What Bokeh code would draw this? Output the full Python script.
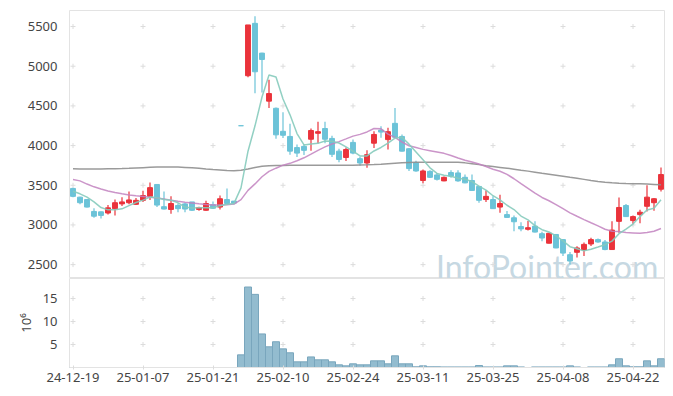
from bokeh.plotting import figure
from bokeh.layouts import column
from bokeh.models import ColumnDataSource, Range1d, FixedTicker
from bokeh.core.properties import value
from bokeh.embed import file_html
from bokeh.resources import INLINE

# ---------------- data ----------------
dates = [
    "24-12-19", "24-12-20", "24-12-23", "24-12-24", "24-12-26", "24-12-27", "24-12-30",
    "25-01-02", "25-01-03", "25-01-06", "25-01-07", "25-01-08", "25-01-09", "25-01-10",
    "25-01-13", "25-01-14", "25-01-15", "25-01-16", "25-01-17", "25-01-20", "25-01-21",
    "25-01-22", "25-01-23", "25-01-24", "25-01-31",
    "25-02-03", "25-02-04", "25-02-05", "25-02-06", "25-02-07", "25-02-10", "25-02-11",
    "25-02-12", "25-02-13", "25-02-14", "25-02-17", "25-02-18", "25-02-19", "25-02-20",
    "25-02-21", "25-02-24", "25-02-25", "25-02-26", "25-02-27", "25-02-28",
    "25-03-04", "25-03-05", "25-03-06", "25-03-07", "25-03-10", "25-03-11", "25-03-12",
    "25-03-13", "25-03-14", "25-03-17", "25-03-18", "25-03-19", "25-03-20", "25-03-21",
    "25-03-24", "25-03-25", "25-03-26", "25-03-27", "25-03-28", "25-03-31",
    "25-04-01", "25-04-02", "25-04-03", "25-04-04", "25-04-07", "25-04-08", "25-04-09",
    "25-04-10", "25-04-11", "25-04-14", "25-04-15", "25-04-16", "25-04-17", "25-04-18",
    "25-04-21", "25-04-22", "25-04-23", "25-04-24", "25-04-25", "25-04-28",
]

opens = [3460, 3350, 3320, 3170, 3165, 3150, 3205, 3265, 3280, 3260,
         3310, 3360, 3510, 3230, 3195, 3245, 3265, 3290, 3195, 3185,
         3255, 3225, 3320, 3300, 4250, 4880, 5540, 5165, 4560, 4470,
         4180, 4115, 3975, 3990, 4080, 4155, 4215, 4090, 3930, 3850,
         4040, 3835, 3780, 4030, 4195, 4075, 4280, 4115, 3960, 3785,
         3560, 3675, 3630, 3555, 3660, 3655, 3600, 3560, 3485, 3320,
         3320, 3225, 3130, 3090, 2980, 2945, 2985, 2890, 2770, 2880,
         2815, 2625, 2655, 2685, 2760, 2815, 2785, 2690, 3045, 3245,
         3055, 3130, 3235, 3280, 3450]
highs = [3470, 3355, 3325, 3210, 3170, 3250, 3320, 3350, 3420, 3340,
         3430, 3535, 3510, 3420, 3360, 3270, 3280, 3290, 3230, 3305,
         3295, 3370, 3460, 3300, 4250, 5520, 5630, 5170, 4830, 4480,
         4420, 4275, 4015, 4020, 4215, 4300, 4300, 4125, 3960, 3975,
         4075, 3860, 3940, 4180, 4245, 4225, 4475, 4140, 3970, 3810,
         3700, 3690, 3655, 3610, 3690, 3690, 3635, 3635, 3490, 3435,
         3360, 3380, 3175, 3120, 3035, 3050, 3045, 2915, 2900, 2885,
         2820, 2660, 2730, 2780, 2840, 2830, 2810, 3045, 3345, 3265,
         3120, 3190, 3500, 3340, 3725]
lows = [3350, 3260, 3220, 3090, 3080, 3130, 3120, 3240, 3260, 3250,
        3290, 3315, 3225, 3195, 3140, 3160, 3160, 3175, 3180, 3180,
        3200, 3195, 3265, 3260, 4250, 4860, 4660, 4670, 4475, 4085,
        4095, 3885, 3855, 3880, 3935, 4030, 4030, 3855, 3790, 3805,
        3890, 3745, 3720, 3970, 4100, 3950, 4100, 3925, 3680, 3670,
        3525, 3590, 3560, 3550, 3595, 3545, 3525, 3430, 3280, 3290,
        3200, 3155, 3090, 2920, 2920, 2930, 2905, 2795, 2765, 2705,
        2610, 2500, 2590, 2610, 2735, 2775, 2680, 2685, 2900, 3100,
        3015, 3020, 3170, 3180, 3420]
closes = [3360, 3280, 3225, 3110, 3120, 3215, 3280, 3290, 3315, 3310,
          3370, 3470, 3250, 3200, 3270, 3205, 3200, 3185, 3220, 3270,
          3210, 3330, 3270, 3275, 4250, 5520, 4930, 5085, 4655, 4135,
          4130, 3930, 3905, 3940, 4190, 4175, 4080, 3890, 3825, 3950,
          3905, 3780, 3885, 4140, 4170, 4175, 4105, 3930, 3710, 3680,
          3680, 3600, 3575, 3600, 3615, 3555, 3530, 3435, 3310, 3360,
          3205, 3270, 3095, 3040, 2950, 2965, 2910, 2835, 2895, 2710,
          2645, 2545, 2710, 2755, 2815, 2785, 2690, 2935, 3220, 3105,
          3105, 3160, 3350, 3330, 3635]

# volume, millions of shares
volume_m = [0, 0, 0, 0, 0, 0, 0, 0, 0, 0,
            0, 0, 0, 0, 0, 0, 0, 0, 0, 0,
            0, 0, 0, 0, 2.75, 17.5, 15.9, 7.3, 4.5, 5.6,
            4.05, 3.2, 1.23, 1.23, 2.3, 1.67, 1.67, 1.23, 0.58, 0.36,
            0.8, 0.58, 0.58, 1.45, 1.45, 0.8, 2.54, 0.8, 0.8, 0.15,
            0.36, 0.15, 0.15, 0.12, 0.12, 0.12, 0.12, 0.12, 0.43, 0.12,
            0.12, 0.12, 0.36, 0.36, 0.12, 0, 0.12, 0.12, 0.12, 0.12,
            0.12, 0.36, 0.12, 0, 0.12, 0.12, 0.12, 0.58, 1.9, 0.36,
            0.15, 0.15, 1.45, 0.36, 1.9]

ma5 = [3425, 3392, 3350, 3291, 3219, 3190, 3190, 3203, 3244, 3282,
       3313, 3351, 3343, 3320, 3312, 3279, 3225, 3212, 3216, 3216,
       3217, 3243, 3260, 3271, 3467, 3929, 4249, 4612, 4888, 4865,
       4587, 4387, 4151, 4008, 4019, 4028, 4058, 4055, 4032, 3984,
       3930, 3870, 3869, 3932, 3976, 4030, 4095, 4104, 4018, 3920,
       3821, 3720, 3649, 3627, 3614, 3589, 3575, 3547, 3489, 3438,
       3368, 3316, 3248, 3194, 3112, 3064, 2992, 2940, 2911, 2863,
       2799, 2726, 2701, 2673, 2694, 2722, 2751, 2796, 2889, 2947,
       3011, 3105, 3188, 3210, 3316]
ma20 = [3572, 3555, 3515, 3480, 3452, 3428, 3408, 3392, 3378, 3368,
        3359, 3350, 3340, 3326, 3312, 3298, 3286, 3276, 3266, 3257,
        3250, 3252, 3255, 3263, 3319, 3435, 3517, 3607, 3674, 3715,
        3753, 3776, 3809, 3846, 3892, 3940, 3984, 4020, 4050, 4084,
        4119, 4141, 4172, 4215, 4211, 4144, 4103, 4045, 3998, 3975,
        3952, 3936, 3919, 3902, 3874, 3843, 3815, 3792, 3767, 3737,
        3702, 3677, 3637, 3582, 3521, 3461, 3401, 3346, 3305, 3257,
        3205, 3152, 3109, 3067, 3027, 2988, 2946, 2921, 2917, 2904,
        2899, 2894, 2906, 2921, 2955]
ma60 = [3707, 3706, 3705, 3705, 3705, 3707, 3709, 3711, 3714, 3718,
        3722, 3726, 3729, 3731, 3731, 3729, 3725, 3720, 3714, 3706,
        3699, 3693, 3687, 3683, 3690, 3705, 3725, 3738, 3745, 3749,
        3750, 3751, 3751, 3751, 3751, 3751, 3751, 3751, 3751, 3752,
        3753, 3755, 3757, 3760, 3765, 3772, 3778, 3784, 3788, 3790,
        3790, 3790, 3790, 3790, 3790, 3789, 3782, 3772, 3760, 3745,
        3735, 3725, 3715, 3703, 3690, 3678, 3665, 3652, 3640, 3627,
        3614, 3600, 3588, 3574, 3560, 3548, 3537, 3530, 3524, 3521,
        3519, 3518, 3515, 3510, 3505]

price_ticks = [2500, 3000, 3500, 4000, 4500, 5000, 5500]
volume_ticks = [5, 10, 15]
tick_every = 10
watermark = "InfoPointer.com"

# ---------------- styling ----------------
UP = "#ea333b"
DOWN = "#6cc3d8"
FONT = "Noto Sans"
LABEL_COLOR = "#444444"
BORDER = "#e3e3e3"
CROSS = "#dcdcdc"

n = len(dates)
xs = list(range(n))
x_ticks = [t for t in range(0, n, tick_every) if t <= 80]
x_labels = {t: dates[t] for t in x_ticks}

up = [c > o for o, c in zip(opens, closes)]
colors = [UP if u else DOWN for u in up]
src = ColumnDataSource(dict(
    x=xs, open=opens, high=highs, low=lows, close=closes,
    top=[max(o, c) for o, c in zip(opens, closes)],
    bottom=[min(o, c) for o, c in zip(opens, closes)],
    color=colors, vol=volume_m, ma5=ma5, ma20=ma20, ma60=ma60,
))

x_range = Range1d(-0.5, n - 0.5)

# ---------------- price panel ----------------
p = figure(width=665, height=278, x_range=x_range, y_range=Range1d(2325, 5702),
           output_backend="svg", toolbar_location=None, x_axis_location=None,
           min_border_left=69, min_border_right=1, min_border_top=10, min_border_bottom=0)
p.background_fill_color = "white"
p.border_fill_color = "white"
p.outline_line_color = BORDER
p.grid.visible = False
p.yaxis.ticker = FixedTicker(ticks=price_ticks)
p.yaxis.axis_line_color = None
p.yaxis.major_tick_line_color = None
p.yaxis.minor_tick_line_color = None
p.yaxis.major_label_standoff = 6
p.yaxis.major_label_text_font = FONT
p.yaxis.major_label_text_font_size = "13px"
p.yaxis.major_label_text_color = LABEL_COLOR

# watermark drawn first, behind everything
p.text(x=[n - 1.4], y=[2470], text=[watermark], text_align="right",
       text_baseline="alphabetic", text_font=value("Lato"), text_font_size="32px",
       text_color="#c6d8e2")

cx = [t for t in x_ticks for _ in price_ticks]
cy = [val for _ in x_ticks for val in price_ticks]
p.scatter(cx, cy, marker="cross", size=5, line_color=CROSS, line_width=1)

p.segment(x0="x", y0="low", x1="x", y1="high", color="color", line_width=1.2, source=src)
p.vbar(x="x", width=0.7, top="top", bottom="bottom", fill_color="color",
       line_color="color", line_width=1, source=src)

p.line("x", "ma60", source=src, line_color="#8f8f8f", line_width=1.5, line_alpha=0.9)
p.line("x", "ma20", source=src, line_color="#c283bf", line_width=1.5, line_alpha=0.85)
p.line("x", "ma5", source=src, line_color="#86cbbd", line_width=1.5, line_alpha=0.9)

# ---------------- volume panel ----------------
v = figure(width=665, height=106, x_range=x_range, y_range=Range1d(0, 19.35),
           output_backend="svg", toolbar_location=None,
           min_border_left=69, min_border_right=1, min_border_top=0, min_border_bottom=0)
v.background_fill_color = "white"
v.border_fill_color = "white"
v.outline_line_color = BORDER
v.grid.visible = False

vx = [t for t in x_ticks for _ in volume_ticks]
vy = [val for _ in x_ticks for val in volume_ticks]
v.scatter(vx, vy, marker="cross", size=5, line_color=CROSS, line_width=1)

v.vbar(x="x", width=1.0, top="vol", bottom=0, fill_color="#93bccf",
       line_color="#79a6bd", line_width=1, source=src)

v.yaxis.ticker = FixedTicker(ticks=volume_ticks)
v.yaxis.axis_line_color = None
v.yaxis.major_tick_line_color = None
v.yaxis.minor_tick_line_color = None
v.yaxis.major_label_standoff = 6
v.yaxis.major_label_text_font = FONT
v.yaxis.major_label_text_font_size = "13px"
v.yaxis.major_label_text_color = LABEL_COLOR
v.yaxis.axis_label = "10\u2076"
v.yaxis.axis_label_text_font = FONT
v.yaxis.axis_label_text_font_size = "13px"
v.yaxis.axis_label_text_font_style = "normal"
v.yaxis.axis_label_text_color = LABEL_COLOR
v.yaxis.axis_label_standoff = 5

v.xaxis.ticker = FixedTicker(ticks=x_ticks)
v.xaxis.major_label_overrides = x_labels
v.xaxis.axis_line_color = BORDER
v.xaxis.major_tick_line_color = CROSS
v.xaxis.major_tick_in = 2
v.xaxis.major_tick_out = 2
v.xaxis.minor_tick_line_color = None
v.xaxis.major_label_standoff = 3
v.xaxis.major_label_text_font = FONT
v.xaxis.major_label_text_font_size = "13px"
v.xaxis.major_label_text_color = LABEL_COLOR

layout = column(p, v, spacing=0)
open("out.html", "w").write(file_html(layout, INLINE))
